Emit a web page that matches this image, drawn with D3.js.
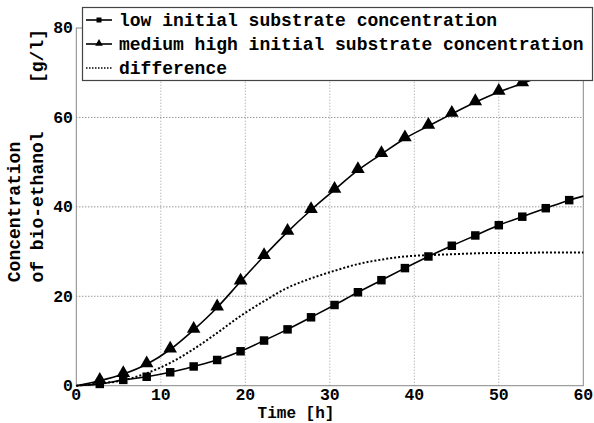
<!DOCTYPE html>
<html>
<head>
<meta charset="utf-8">
<script src="https://cdn.jsdelivr.net/npm/d3@7"></script>
<style>
  body { margin: 0; background: #fff; }
  svg { display: block; font-family: "Liberation Mono", "DejaVu Sans Mono", monospace; font-weight: bold; }
</style>
</head>
<body>
<svg id="chart" width="594" height="423"></svg>
<script>
// time points (every 10000 s, in hours)
const times = [0, 2.78, 5.56, 8.33, 11.11, 13.89, 16.67, 19.44, 22.22, 25, 27.78, 30.56,
  33.33, 36.11, 38.89, 41.67, 44.44, 47.22, 50, 52.78, 55.56, 58.33, 60];
const lowConc = [0, 0.4, 1.3, 2.0, 3.0, 4.3, 5.75, 7.7, 10.1, 12.6, 15.3, 18.05,
  20.9, 23.6, 26.3, 28.9, 31.3, 33.6, 35.9, 37.8, 39.7, 41.5, 42.4];
const mediumConc = [0, 1.1, 2.6, 4.8, 8.1, 12.5, 17.5, 23.3, 29.0, 34.4, 39.3, 43.8,
  48.2, 51.8, 55.3, 58.1, 60.8, 63.4, 65.7, 67.6, 69.5, 71.2, 72.2];
const diffConc = [0, 0.5, 1.2, 2.8, 5.1, 8.2, 11.8, 15.6, 18.9, 21.9, 24.0, 25.7,
  27.2, 28.2, 28.9, 29.2, 29.4, 29.6, 29.7, 29.7, 29.8, 29.8, 29.8];
const xTicks = [0, 10, 20, 30, 40, 50, 60];
const yTicks = [0, 20, 40, 60, 80];
const legendLabels = ["low initial substrate concentration",
  "medium high initial substrate concentration",
  "difference"];

const svg = d3.select("#chart");
const x = d3.scaleLinear().domain([0, 60]).range([76.3, 583.3]);
const y = d3.scaleLinear().domain([0, 80]).range([385.7, 28]);

// grid
svg.append("g").selectAll("line")
  .data(xTicks.slice(1, -1))
  .join("line")
  .attr("x1", d => x(d)).attr("x2", d => x(d))
  .attr("y1", y(0)).attr("y2", y(80))
  .attr("stroke", "#9a9a9a").attr("stroke-dasharray", "1,2");
svg.append("g").selectAll("line")
  .data(yTicks.slice(1, -1))
  .join("line")
  .attr("x1", x(0)).attr("x2", x(60))
  .attr("y1", d => y(d)).attr("y2", d => y(d))
  .attr("stroke", "#666").attr("stroke-dasharray", "1,2");

// frame
svg.append("rect")
  .attr("x", x(0)).attr("y", y(80))
  .attr("width", x(60) - x(0)).attr("height", y(0) - y(80))
  .attr("fill", "none").attr("stroke", "#888").attr("stroke-width", 1);

// tick labels
svg.append("g").selectAll("text")
  .data(xTicks)
  .join("text")
  .attr("x", d => x(d)).attr("y", 400)
  .attr("text-anchor", "middle")
  .attr("font-size", 16.5)
  .text(d => d);
svg.append("g").selectAll("text")
  .data(yTicks)
  .join("text")
  .attr("x", 73).attr("y", d => y(d) + 1)
  .attr("dominant-baseline", "middle")
  .attr("text-anchor", "end")
  .attr("font-size", 16.5)
  .text(d => d);

// axis titles
svg.append("text")
  .attr("x", 296).attr("y", 418)
  .attr("text-anchor", "middle")
  .attr("font-size", 16)
  .text("Time [h]");
svg.append("text")
  .attr("transform", "translate(20,212) rotate(-90)")
  .attr("text-anchor", "middle")
  .attr("font-size", 18)
  .text("Concentration");
svg.append("text")
  .attr("transform", "translate(43,207) rotate(-90)")
  .attr("text-anchor", "middle")
  .attr("font-size", 18)
  .text("of bio-ethanol");
svg.append("text")
  .attr("transform", "translate(43,56) rotate(-90)")
  .attr("text-anchor", "middle")
  .attr("font-size", 18)
  .text("[g/l]");

// lines
const line = vals => d3.line()
  .x((d, i) => x(times[i]))
  .y(d => y(d))
  .curve(d3.curveMonotoneX)(vals);

svg.append("path").attr("d", line(diffConc))
  .attr("fill", "none").attr("stroke", "#000")
  .attr("stroke-width", 2).attr("stroke-dasharray", "2,2");
svg.append("path").attr("d", line(lowConc))
  .attr("fill", "none").attr("stroke", "#000").attr("stroke-width", 1.6);
svg.append("path").attr("d", line(mediumConc))
  .attr("fill", "none").attr("stroke", "#000").attr("stroke-width", 1.6);

const square = d3.symbol().type(d3.symbolSquare).size(72);
const triangle = d3.symbol().type(d3.symbolTriangle).size(80);
const markIdx = d3.range(1, times.length - 1);

svg.append("g").selectAll("path")
  .data(markIdx)
  .join("path")
  .attr("d", square)
  .attr("transform", i => `translate(${x(times[i])},${y(lowConc[i])})`)
  .attr("fill", "#000");
svg.append("g").selectAll("path")
  .data(markIdx)
  .join("path")
  .attr("d", triangle)
  .attr("transform", i => `translate(${x(times[i])},${y(mediumConc[i]) - 1})`)
  .attr("fill", "#000");

// legend
const legend = svg.append("g");
legend.append("rect")
  .attr("x", 82.5).attr("y", 7.5).attr("width", 510).attr("height", 73)
  .attr("fill", "#fff").attr("stroke", "#444").attr("stroke-width", 1.2);
const rowY = [20, 44, 68];
legend.selectAll("line")
  .data(legendLabels)
  .join("line")
  .attr("x1", 86).attr("x2", 112)
  .attr("y1", (d, i) => rowY[i]).attr("y2", (d, i) => rowY[i])
  .attr("stroke", "#000")
  .attr("stroke-width", (d, i) => i === 2 ? 1.5 : 1.6)
  .attr("stroke-dasharray", (d, i) => i === 2 ? "1.5,1.5" : null);
legend.append("path")
  .attr("d", d3.symbol().type(d3.symbolSquare).size(25))
  .attr("transform", `translate(99,${rowY[0]})`);
legend.append("path")
  .attr("d", d3.symbol().type(d3.symbolTriangle).size(25))
  .attr("transform", `translate(99,${rowY[1] - 0.5})`);
legend.selectAll("text")
  .data(legendLabels)
  .join("text")
  .attr("x", 119).attr("y", (d, i) => rowY[i] + 1)
  .attr("dominant-baseline", "middle")
  .attr("font-size", 18)
  .text(d => d);
</script>
</body>
</html>
